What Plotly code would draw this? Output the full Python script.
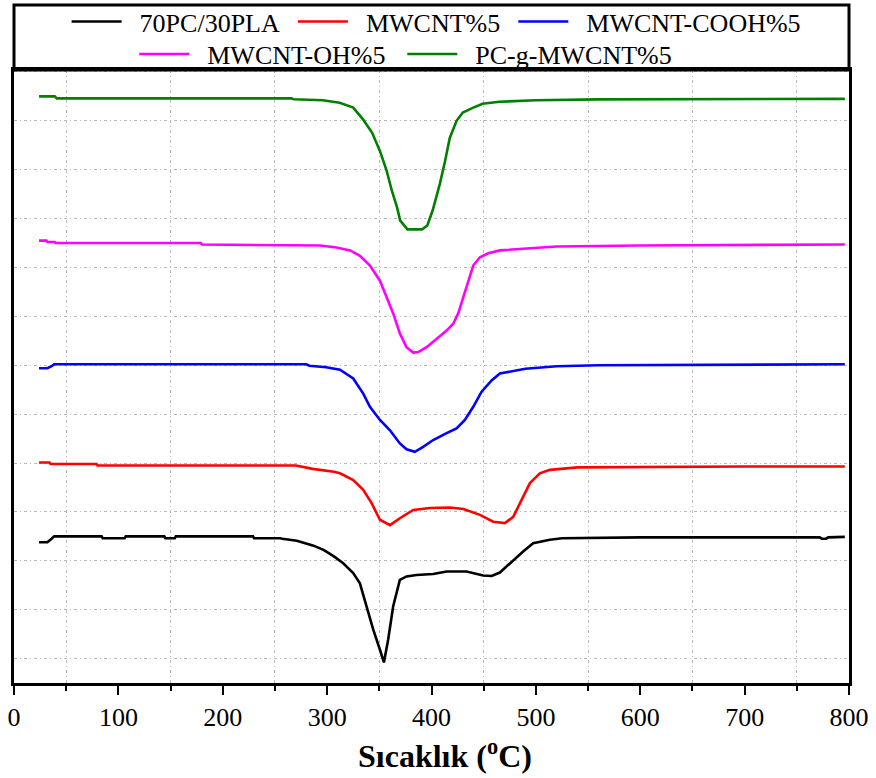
import plotly.graph_objects as go

# Temperature axis (°C) and offset derivative signal (arbitrary units) per sample
t_pc_pla = [24, 32, 36, 38.5, 84, 85, 106, 107, 144, 145, 154, 155, 229, 230, 255, 257,
            271, 287, 297, 306.5, 315.4, 325, 331.4, 337.8, 344.2, 350.6, 354.4, 358.5,
            363.3, 369.7, 376.1, 385.7, 401.6, 414.5, 433.6, 449.5, 457.6, 465.5, 475,
            487.8, 497.4, 513.4, 525, 600, 700, 772, 774, 778, 780, 796]
d_pc_pla = [2.38, 2.38, 2.45, 2.50, 2.50, 2.46, 2.46, 2.50, 2.50, 2.46, 2.46, 2.50, 2.50,
            2.46, 2.46, 2.45, 2.41, 2.31, 2.22, 2.09, 1.95, 1.75, 1.54, 1.07, 0.59, 0.18,
            -0.08, 0.39, 1.07, 1.61, 1.68, 1.71, 1.73, 1.78, 1.78, 1.70, 1.69, 1.76, 1.95,
            2.19, 2.36, 2.43, 2.46, 2.48, 2.48, 2.48, 2.45, 2.45, 2.48, 2.49]

t_mwcnt = [24, 34, 35, 79, 80, 270, 286, 297, 306.5, 312.3, 325, 334.6, 342.6, 350.6,
           360.2, 369.7, 382.5, 398.5, 417.6, 430.4, 446.4, 459.1, 470.3, 478.3, 484.7,
           494.3, 503.8, 513.4, 540, 600, 700, 796]
d_mwcnt = [4.01, 4.01, 3.98, 3.98, 3.95, 3.95, 3.88, 3.85, 3.82, 3.79, 3.65, 3.45, 3.18,
           2.84, 2.73, 2.87, 3.04, 3.08, 3.09, 3.06, 2.94, 2.80, 2.77, 2.90, 3.18, 3.59,
           3.79, 3.86, 3.91, 3.92, 3.93, 3.93]

t_cooh = [24, 32, 36, 38.5, 280, 283, 299, 312.3, 325, 334.6, 341, 350.6, 360.2, 369.7,
          376.1, 384, 392, 401.6, 414.5, 424, 432, 440, 448, 457.6, 465.5, 490, 520, 560, 796]
d_cooh = [5.94, 5.94, 5.98, 6.02, 6.02, 5.99, 5.96, 5.91, 5.73, 5.42, 5.15, 4.88, 4.67,
          4.40, 4.28, 4.23, 4.33, 4.47, 4.61, 4.71, 4.88, 5.15, 5.46, 5.69, 5.83, 5.93,
          5.98, 6.00, 6.02]

t_oh = [24, 31, 32, 39, 40, 179, 180, 293, 309, 322, 331.4, 341, 350.6, 357, 363.3, 369.7,
        376, 382.5, 387.3, 395.3, 404.9, 414.5, 420.8, 425.6, 430.4, 435.2, 440, 446.4,
        454.3, 465.5, 520, 600, 796]
d_oh = [8.55, 8.55, 8.52, 8.52, 8.50, 8.50, 8.47, 8.45, 8.41, 8.35, 8.24, 8.04, 7.73, 7.39,
        7.06, 6.65, 6.37, 6.26, 6.27, 6.37, 6.54, 6.71, 6.85, 7.06, 7.39, 7.73, 8.04, 8.21,
        8.29, 8.35, 8.43, 8.45, 8.47]

t_graft = [24, 39, 41, 266, 268, 296, 312, 325, 334, 343, 350.5, 357, 362, 367, 370, 377,
           391, 396, 401, 408, 413, 417.5, 424, 430, 440, 449, 465, 500, 560, 700, 796]
d_graft = [11.50, 11.50, 11.46, 11.46, 11.44, 11.42, 11.37, 11.27, 11.04, 10.76, 10.39,
           9.98, 9.57, 9.23, 8.96, 8.78, 8.78, 8.86, 9.16, 9.71, 10.18, 10.65, 11.00, 11.17,
           11.27, 11.35, 11.39, 11.42, 11.44, 11.45, 11.45]

names = ["70PC/30PLA", "MWCNT%5", "MWCNT-COOH%5", "MWCNT-OH%5", "PC-g-MWCNT%5"]
colors = ["#000000", "#ff0000", "#0000ff", "#ff00ff", "#008000"]
temps = [t_pc_pla, t_mwcnt, t_cooh, t_oh, t_graft]
signals = [d_pc_pla, d_mwcnt, d_cooh, d_oh, d_graft]

# one legend per entry: two rows above the plot inside a framed strip
legend_ids = ["legend", "legend2", "legend3", "legend4", "legend5"]
legend_x = [0.063, 0.334, 0.598, 0.144, 0.465]
legend_y = [1.079, 1.079, 1.079, 1.026, 1.026]

FONT = "Liberation Serif, Times New Roman, serif"
GRID = "#b9b9b9"
GRID_DASH = "3px,3px,1px,3px"

fig = go.Figure()
for name, t, d, c, lg in zip(names, temps, signals, colors, legend_ids):
    # leading spaces keep a gap between the legend line and its label
    fig.add_trace(go.Scatter(x=t, y=d, mode="lines", name="  " + name, legend=lg,
                             line=dict(color=c, width=2.6)))

legend_layout = {}
for lg, lx, ly in zip(legend_ids, legend_x, legend_y):
    legend_layout[lg] = dict(orientation="h", xanchor="left", yanchor="middle",
                             x=lx, y=ly,
                             font=dict(family=FONT, size=26, color="black"),
                             itemwidth=50, bgcolor="rgba(0,0,0,0)", borderwidth=0)

fig.update_layout(
    width=876, height=778,
    margin=dict(l=14, r=27, t=70, b=95, autoexpand=False),
    paper_bgcolor="white", plot_bgcolor="white",
    font=dict(family=FONT, color="black"),
    showlegend=True,
    **legend_layout,
    xaxis=dict(
        range=[0, 800], tick0=0, dtick=100,
        ticks="outside", ticklen=9, tickwidth=2, tickcolor="black",
        showline=True, linewidth=3, linecolor="black", mirror=True,
        showgrid=False, zeroline=False,
        tickfont=dict(family=FONT, size=26, color="black"),
        minor=dict(dtick=50, tick0=0, ticks="outside", ticklen=5, tickwidth=2,
                   tickcolor="black", showgrid=True, gridcolor=GRID, gridwidth=1,
                   griddash=GRID_DASH),
    ),
    yaxis=dict(
        range=[-0.5, 12.04], tick0=0, dtick=1,
        showticklabels=False, ticks="",
        showgrid=True, gridcolor=GRID, gridwidth=1, griddash=GRID_DASH,
        showline=True, linewidth=3, linecolor="black", mirror=True, zeroline=False,
    ),
    shapes=[dict(type="rect", xref="paper", yref="paper", x0=0, x1=1, y0=1,
                 y1=1.106, line=dict(color="black", width=3), fillcolor="rgba(0,0,0,0)")],
    annotations=[dict(text="<b>Sıcaklık (<sup>o</sup>C)</b>", xref="paper", yref="paper",
                      x=0.516, y=-0.1158, xanchor="center", yanchor="middle",
                      showarrow=False, font=dict(family=FONT, size=32, color="black"))],
)

fig.write_html("out.html")
